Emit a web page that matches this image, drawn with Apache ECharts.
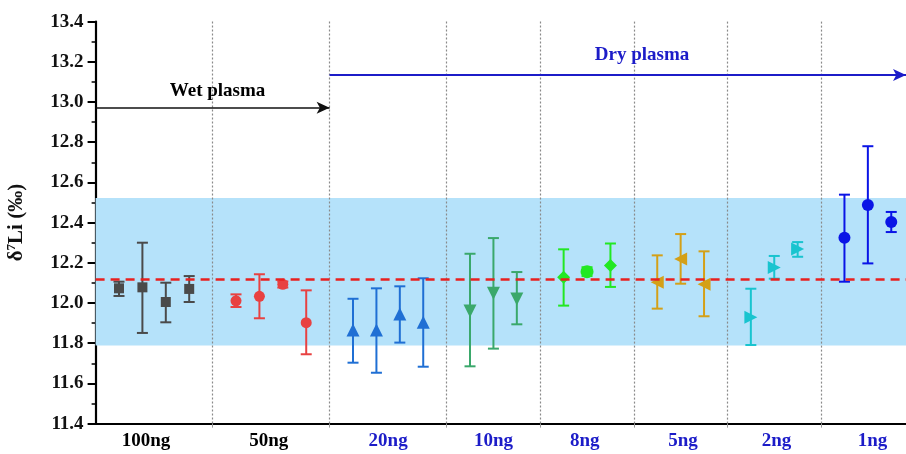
<!DOCTYPE html>
<html><head><meta charset="utf-8">
<script src="https://cdn.jsdelivr.net/npm/echarts@6/dist/echarts.min.js"></script>
<style>html,body{margin:0;padding:0;background:#fff}#c{width:906px;height:454px}</style>
</head><body><div id="c"></div>
<script>
// ---- data ----
const groupLabels = ['100ng','50ng','20ng','10ng','8ng','5ng','2ng','1ng'];
const groupLabelPos = [2.15, 7.4, 12.5, 17, 20.9, 25.1, 29.1, 33.2];
const separators = [5, 10, 15, 19, 23, 27, 31];
const yTicks = [11.4, 13.4, 0.2]; // min, max, step
const refValue = 12.12;
const bandLow = 11.788, bandHigh = 12.522;
const wetArrow = [0, 10, 12.972];
const dryArrow = [10, 34.63, 13.134];

const x100ng = [1, 2, 3, 4];
const m100ng = [12.073, 12.078, 12.005, 12.070];
const hi100ng = [12.106, 12.300, 12.101, 12.134];
const lo100ng = [12.035, 11.851, 11.904, 12.005];

const x50ng = [6, 7, 8, 9];
const m50ng = [12.011, 12.033, 12.093, 11.902];
const hi50ng = [12.043, 12.143, 12.107, 12.063];
const lo50ng = [11.980, 11.924, 12.077, 11.745];

const x20ng = [11, 12, 13, 14];
const m20ng = [11.866, 11.866, 11.945, 11.904];
const hi20ng = [12.021, 12.073, 12.083, 12.123];
const lo20ng = [11.703, 11.653, 11.803, 11.683];

const x10ng = [16, 17, 18];
const m10ng = [11.960, 12.048, 12.020];
const hi10ng = [12.245, 12.323, 12.154];
const lo10ng = [11.685, 11.773, 11.894];

const x8ng = [20, 21, 22];
const m8ng = [12.128, 12.156, 12.186];
const hi8ng = [12.267, 12.178, 12.296];
const lo8ng = [11.987, 12.134, 12.080];

const x5ng = [24, 25, 26];
const m5ng = [12.103, 12.219, 12.093];
const hi5ng = [12.237, 12.343, 12.257];
const lo5ng = [11.972, 12.096, 11.934];

const x2ng = [28, 29, 30];
const m2ng = [11.929, 12.176, 12.269];
const hi2ng = [12.071, 12.234, 12.303];
const lo2ng = [11.791, 12.121, 12.230];

const x1ng = [32, 33, 34];
const m1ng = [12.325, 12.488, 12.403];
const hi1ng = [12.539, 12.780, 12.453];
const lo1ng = [12.106, 12.197, 12.353];

// ---- chart ----
const FONT = '"Liberation Serif","Times New Roman",serif';

function errSeries(xs, lo, hi, color) {
  return {
    type: 'custom', silent: true, z: 3,
    renderItem: function (params, api) {
      const x = api.value(0);
      const pl = api.coord([x, api.value(1)]);
      const ph = api.coord([x, api.value(2)]);
      const w = 5.5;
      const st = { stroke: color, lineWidth: 2 };
      return { type: 'group', children: [
        { type: 'line', shape: { x1: pl[0], y1: pl[1], x2: ph[0], y2: ph[1] }, style: st },
        { type: 'line', shape: { x1: pl[0] - w, y1: pl[1], x2: pl[0] + w, y2: pl[1] }, style: st },
        { type: 'line', shape: { x1: ph[0] - w, y1: ph[1], x2: ph[0] + w, y2: ph[1] }, style: st }
      ]};
    },
    encode: { x: 0, y: [1, 2] },
    data: xs.map((x, i) => [x, lo[i], hi[i]])
  };
}
function ptSeries(xs, ms, color, symbol, size, rotate, perSymbol) {
  return {
    type: 'scatter', z: 4, symbol: symbol, symbolSize: size, symbolRotate: rotate || 0,
    itemStyle: { color: color, opacity: 1 },
    data: xs.map((x, i) => {
      const d = { value: [x, ms[i]] };
      if (perSymbol) d.symbol = perSymbol[i];
      return d;
    })
  };
}

const cGray = '#4a4a4a', cRed = '#e84141', cBlue = '#1f6fd4', cGreen = '#3aa86b',
      cLime = '#22e822', cGold = '#d4a017', cCyan = '#19c4cf', cNavy = '#0a14e6';

const series = [
  {
    type: 'line', data: [], z: 1, silent: true,
    markArea: { silent: true, itemStyle: { color: '#b5e2fa', opacity: 1 },
      data: [[{ yAxis: bandLow }, { yAxis: bandHigh }]] },
    markLine: {
      silent: true, symbol: ['none', 'none'], animation: false,
      label: { show: false },
      data: separators.map(v => ({ xAxis: v, lineStyle: { type: [2, 2], color: '#8a8a8a', width: 1.2 } }))
        .concat([
          { yAxis: refValue, lineStyle: { type: [9, 6], color: '#e8201f', width: 2.5 } },
          [ { coord: [wetArrow[0], wetArrow[2]], symbol: 'none', lineStyle: { color: '#111', width: 1.6, type: 'solid' } },
            { coord: [wetArrow[1], wetArrow[2]], symbol: 'arrow', symbolSize: [9, 13] } ],
          [ { coord: [dryArrow[0], dryArrow[2]], symbol: 'none', lineStyle: { color: '#1c1cc8', width: 2, type: 'solid' } },
            { coord: [dryArrow[1], dryArrow[2]], symbol: 'arrow', symbolSize: [9, 13] } ]
        ])
    }
  },
  {
    type: 'scatter', symbolSize: 1, z: 5, silent: true,
    itemStyle: { opacity: 0 },
    data: [
      { value: [5.21, 13.056], label: { show: true, position: 'inside', formatter: 'Wet plasma',
          fontFamily: FONT, fontWeight: 'bold', fontSize: 19, color: '#000', opacity: 1 } },
      { value: [23.35, 13.234], label: { show: true, position: 'inside', formatter: 'Dry plasma',
          fontFamily: FONT, fontWeight: 'bold', fontSize: 19, color: '#1c1cc8', opacity: 1 } }
    ]
  },
  errSeries(x100ng, lo100ng, hi100ng, cGray), ptSeries(x100ng, m100ng, cGray, 'rect', 10),
  errSeries(x50ng, lo50ng, hi50ng, cRed), ptSeries(x50ng, m50ng, cRed, 'circle', 11),
  errSeries(x20ng, lo20ng, hi20ng, cBlue), ptSeries(x20ng, m20ng, cBlue, 'triangle', 13),
  errSeries(x10ng, lo10ng, hi10ng, cGreen), ptSeries(x10ng, m10ng, cGreen, 'triangle', 13, 180),
  errSeries(x8ng, lo8ng, hi8ng, cLime), ptSeries(x8ng, m8ng, cLime, 'diamond', 13, 0, ['diamond', 'circle', 'diamond']),
  errSeries(x5ng, lo5ng, hi5ng, cGold), ptSeries(x5ng, m5ng, cGold, 'triangle', 13, 90),
  errSeries(x2ng, lo2ng, hi2ng, cCyan), ptSeries(x2ng, m2ng, cCyan, 'triangle', 13, -90),
  errSeries(x1ng, lo1ng, hi1ng, cNavy), ptSeries(x1ng, m1ng, cNavy, 'circle', 12)
];

function nearestIdx(v) {
  let k = 0, best = 1e9;
  groupLabelPos.forEach((p, i) => { if (Math.abs(p - v) < best) { best = Math.abs(p - v); k = i; } });
  return k;
}

const chart = echarts.init(document.getElementById('c'), null, { renderer: 'canvas' });
chart.setOption({
  animation: false,
  backgroundColor: '#fff',
  grid: { left: 95.6, right: 0, top: 21.6, bottom: 30.4, containLabel: false, outerBoundsMode: 'none' },
  xAxis: {
    type: 'value', min: 0, max: dryArrow[1],
    splitLine: { show: false },
    axisLine: { show: true, onZero: false, lineStyle: { color: '#000', width: 2.2 } },
    axisTick: { show: true, customValues: separators, length: 4, lineStyle: { color: '#999' } },
    axisLabel: {
      customValues: groupLabelPos, margin: 8,
      fontFamily: FONT, fontWeight: 'bold', fontSize: 19,
      formatter: v => groupLabels[nearestIdx(v)],
      color: v => (nearestIdx(v) < 2 ? '#000' : '#1c1cc8')
    }
  },
  yAxis: {
    type: 'value', min: yTicks[0], max: yTicks[1], interval: yTicks[2],
    splitLine: { show: false },
    axisLine: { show: true, lineStyle: { color: '#000', width: 2.2 } },
    axisTick: { show: true, length: 8, lineStyle: { color: '#000', width: 2 } },
    minorTick: { show: true, splitNumber: 2, length: 4, lineStyle: { color: '#000', width: 1.5 } },
    axisLabel: { margin: 12, fontFamily: FONT, fontWeight: 'bold', fontSize: 19, color: '#111',
      formatter: v => v.toFixed(1) },
    name: 'δ{sup|7}Li (‰)', nameLocation: 'middle', nameRotate: 90, nameGap: 68,
    nameTextStyle: {
      fontFamily: FONT, fontWeight: 'bold', fontSize: 21, color: '#111',
      rich: { sup: { fontFamily: FONT, fontWeight: 'bold', fontSize: 13, verticalAlign: 'top', padding: [0, 0, 9, 0], color: '#111' } }
    }
  },
  series: series
});
</script></body></html>
